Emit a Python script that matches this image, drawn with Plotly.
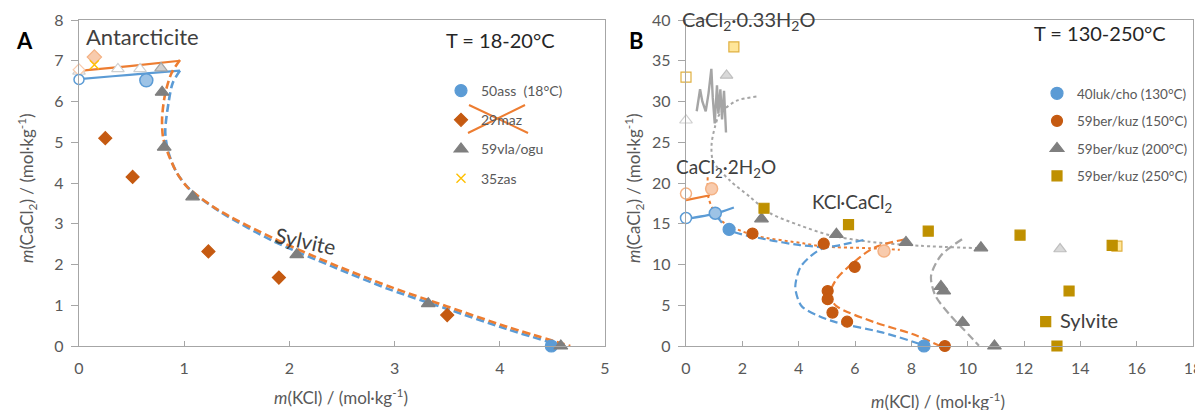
import plotly.graph_objects as go
from plotly.subplots import make_subplots

W, H = 1203, 410
PAGE_PAD = 8  # default body margin of the html page
FONT = "Lato"
TXT = "#595959"
DARK = "#404040"
DASH = "8px,4px"

BLUE, BLUE_LT = "#5B9BD5", "#9DC3E6"
ORANGE, ORANGE_DK, ORANGE_LT = "#ED7D31", "#C55A11", "#F8CBAD"
GREY_DK, GREY, GREY_LT = "#7F7F7F", "#A5A5A5", "#D0D0D0"
GOLD, YELLOW, YELLOW_LT = "#BF9000", "#FFC000", "#FFE699"

# ---------------- Panel A: 18-20 degC ----------------
a_ass_x, a_ass_y = [4.49], [0.0]
a_ass_open_x, a_ass_open_y = [0.0], [6.54]
a_ass_inv_x, a_ass_inv_y = [0.64], [6.52]

a_maz_x = [0.25, 0.51, 1.23, 1.90, 3.50]
a_maz_y = [5.10, 4.15, 2.32, 1.68, 0.76]
a_maz_inv_x, a_maz_inv_y = [0.146], [7.09]
a_maz_open_x, a_maz_open_y = [0.0], [6.78]

a_vla_x = [0.79, 0.81, 1.08, 2.07, 3.32, 4.58]
a_vla_y = [6.23, 4.88, 3.66, 2.24, 1.04, 0.0]
a_vla_open_x, a_vla_open_y = [0.0, 0.37, 0.58], [6.74, 6.80, 6.80]
a_vla_inv_x, a_vla_inv_y = [0.78], [6.82]

a_zas_x, a_zas_y = [0.146], [6.90]

# model curves (panel A)
a_blue_sol_x = [0.0, 0.32, 0.64, 0.96]
a_blue_sol_y = [6.55, 6.62, 6.69, 6.76]
a_orng_sol_x = [0.0, 0.48, 0.96]
a_orng_sol_y = [6.75, 6.87, 7.00]
a_orng_dash_x = [0.96, 0.88, 0.82, 0.79, 0.80, 0.85, 0.93, 1.03, 1.31, 1.85, 2.40, 2.95, 3.50, 4.06, 4.67]
a_orng_dash_y = [7.02, 6.70, 6.20, 5.60, 5.10, 4.70, 4.25, 3.90, 3.36, 2.64, 2.02, 1.46, 0.97, 0.48, 0.0]
a_blue_dash_x = [0.96, 0.89, 0.85, 0.82, 0.85, 0.93, 1.05, 1.35, 1.85, 2.40, 2.95, 3.50, 4.06, 4.60]
a_blue_dash_y = [6.76, 6.45, 5.95, 5.25, 4.75, 4.25, 3.85, 3.28, 2.57, 1.96, 1.39, 0.91, 0.42, 0.0]

# ---------------- Panel B: 130-250 degC ----------------
b_luk_x, b_luk_y = [1.53, 8.45], [14.3, 0.0]
b_luk_open_x, b_luk_open_y = [0.0], [15.7]
b_luk_inv_x, b_luk_inv_y = [1.04], [16.3]

b_b150_x = [2.36, 4.89, 5.99, 5.03, 5.03, 5.20, 5.72, 9.19]
b_b150_y = [13.8, 12.55, 9.7, 6.75, 5.75, 4.1, 2.98, 0.0]
b_b150_open_x, b_b150_open_y = [0.0], [18.7]
b_b150_inv_x, b_b150_inv_y = [0.91, 7.03], [19.3, 11.65]

b_b200_x = [2.68, 5.34, 7.81, 10.47, 9.05, 9.15, 9.82, 10.95]
b_b200_y = [15.6, 13.7, 12.7, 12.05, 7.3, 6.75, 2.9, 0.0]
b_b200_open_x, b_b200_open_y = [0.0], [27.7]
b_b200_inv_x, b_b200_inv_y = [13.28, 1.44], [11.9, 33.2]

b_b250_x = [2.77, 5.77, 8.60, 11.86, 15.13, 13.60, 12.77, 13.17]
b_b250_y = [16.9, 14.9, 14.1, 13.6, 12.35, 6.75, 3.0, 0.0]
b_b250_open_x, b_b250_open_y = [0.0], [33.0]
b_b250_inv_x, b_b250_inv_y = [15.30, 1.70], [12.25, 36.7]

# model curves (panel B)
b_blue_sol_x, b_blue_sol_y = [0.0, 1.04, 1.70], [15.6, 16.25, 17.0]
b_orng_sol_x, b_orng_sol_y = [0.0, 0.85], [17.9, 18.5]
b_blue_dash1_x = [1.10, 1.56, 2.98, 4.00, 4.90]
b_blue_dash1_y = [15.9, 14.2, 13.0, 12.4, 12.1]
b_blue_dash2_x = [6.30, 5.50, 4.80, 4.35, 4.05, 3.88, 4.10, 4.70, 5.34, 6.96, 8.30, 8.45]
b_blue_dash2_y = [13.0, 12.4, 11.9, 10.8, 9.6, 7.2, 4.9, 3.7, 2.9, 1.67, 0.24, 0.0]
b_orng_dot_x = [0.77, 0.79, 0.97, 1.32, 2.39, 4.16, 4.87, 6.52, 7.59]
b_orng_dot_y = [20.7, 18.3, 16.7, 15.2, 13.6, 12.6, 12.2, 12.0, 11.8]
b_orng_dash_x = [7.77, 6.70, 6.00, 5.34, 5.10, 5.34, 6.70, 8.04, 9.00]
b_orng_dash_y = [13.1, 12.1, 10.4, 8.2, 6.2, 4.9, 2.9, 1.47, 0.04]
b_grey_dash_x = [9.80, 9.05, 8.70, 8.85, 9.40, 10.07, 10.40]
b_grey_dash_y = [13.1, 11.1, 8.6, 6.2, 3.7, 1.27, 0.04]
b_grey_dot_x = [2.50, 1.80, 1.20, 1.03, 0.91, 0.96, 1.56, 2.27, 2.98, 4.04, 5.10, 6.50, 8.30, 10.40]
b_grey_dot_y = [30.6, 30.1, 28.5, 26.9, 24.8, 22.7, 20.3, 18.3, 16.3, 14.8, 13.6, 12.8, 12.3, 12.0]
b_grey_jag_x = [0.38, 0.50, 0.58, 0.70, 0.80, 0.90, 0.95, 1.02, 1.10, 1.15, 1.22, 1.28, 1.35, 1.42]
b_grey_jag_y = [28.8, 31.5, 30.0, 28.8, 31.0, 34.0, 30.5, 27.3, 32.0, 28.5, 31.5, 27.8, 31.3, 26.2]


def px(x):
    return (x - PAGE_PAD) / W


def py(y):
    return 1 - (y - PAGE_PAD) / H


fig = make_subplots(rows=1, cols=2)


def line(x, y, color, dash="solid", width=2.2, col=1, shape="spline"):
    fig.add_trace(go.Scatter(x=x, y=y, mode="lines", showlegend=False, hoverinfo="skip",
                             line=dict(color=color, dash=dash, width=width, shape=shape,
                                       smoothing=0.8)),
                  row=1, col=col)


def pts(x, y, symbol, size, fill, edge, col=1, name=None, legend="legend", ew=1.2):
    fig.add_trace(go.Scatter(x=x, y=y, mode="markers", cliponaxis=False,
                             name=name or "", showlegend=name is not None,
                             legend=legend, legendgroup=name or None,
                             marker=dict(symbol=symbol, size=size, color=fill,
                                         line=dict(color=edge, width=ew))),
                  row=1, col=col)


# Panel A curves
line(a_blue_sol_x, a_blue_sol_y, BLUE)
line(a_orng_sol_x, a_orng_sol_y, ORANGE)
line(a_blue_dash_x, a_blue_dash_y, BLUE, DASH, 2.6)
line(a_orng_dash_x, a_orng_dash_y, ORANGE, DASH, 2.6)

# Panel A points
pts(a_vla_open_x, a_vla_open_y, "triangle-up", 11, "white", GREY_LT)
pts(a_maz_open_x, a_maz_open_y, "diamond", 9, "white", ORANGE_LT)
pts(a_vla_inv_x, a_vla_inv_y, "triangle-up", 11, GREY_LT, GREY)
pts(a_ass_open_x, a_ass_open_y, "circle", 10, "white", BLUE, ew=1.5)
pts(a_ass_inv_x, a_ass_inv_y, "circle", 13, BLUE_LT, BLUE, ew=1.5)
pts(a_maz_inv_x, a_maz_inv_y, "diamond", 11, ORANGE_LT, "#F4B183")
pts(a_ass_x, a_ass_y, "circle", 12, BLUE, BLUE, name="50ass \u00a0(18°C)")
pts(a_maz_x, a_maz_y, "diamond", 10, ORANGE_DK, ORANGE_DK, name="29maz")
pts(a_vla_x, a_vla_y, "triangle-up", 12, GREY_DK, GREY_DK, name="59vla/ogu")
pts(a_zas_x, a_zas_y, "x-thin-open", 9, YELLOW, YELLOW, name="35zas", ew=1.4)

# Panel B curves
line(b_grey_jag_x, b_grey_jag_y, GREY, width=2.4, col=2, shape="linear")
line(b_grey_dot_x, b_grey_dot_y, GREY, "dot", 2, col=2)
line(b_orng_dot_x, b_orng_dot_y, ORANGE, "dot", 2, col=2)
line(b_blue_sol_x, b_blue_sol_y, BLUE, col=2)
line(b_orng_sol_x, b_orng_sol_y, ORANGE, col=2)
line(b_blue_dash1_x, b_blue_dash1_y, BLUE, DASH, 2.2, col=2)
line(b_blue_dash2_x, b_blue_dash2_y, BLUE, DASH, 2.2, col=2)
line(b_orng_dash_x, b_orng_dash_y, ORANGE, DASH, 2.2, col=2)
line(b_grey_dash_x, b_grey_dash_y, GREY, DASH, 2.2, col=2)

# Panel B points
pts(b_b250_open_x, b_b250_open_y, "square", 10, "white", "#E0B040", col=2)
pts(b_b200_open_x, b_b200_open_y, "triangle-up", 11, "white", GREY_LT, col=2)
pts(b_b200_inv_x, b_b200_inv_y, "triangle-up", 11, "#D9D9D9", "#BFBFBF", col=2)
pts(b_b250_inv_x, b_b250_inv_y, "square", 10, YELLOW_LT, "#E0B040", col=2)
pts(b_luk_open_x, b_luk_open_y, "circle", 11, "white", BLUE, col=2, ew=1.5)
pts(b_luk_inv_x, b_luk_inv_y, "circle", 12, BLUE_LT, BLUE, col=2, ew=1.5)
pts(b_b150_open_x, b_b150_open_y, "circle", 11, "white", "#F4B183", col=2, ew=1.5)
pts(b_b150_inv_x, b_b150_inv_y, "circle", 12, ORANGE_LT, "#F4B183", col=2, ew=1.5)
pts(b_luk_x, b_luk_y, "circle", 12, BLUE, BLUE, col=2, name="40luk/cho (130°C)", legend="legend2")
pts(b_b150_x, b_b150_y, "circle", 11, ORANGE_DK, ORANGE_DK, col=2, name="59ber/kuz (150°C)", legend="legend2")
pts(b_b200_x, b_b200_y, "triangle-up", 12, GREY_DK, GREY_DK, col=2, name="59ber/kuz (200°C)", legend="legend2")
pts(b_b250_x, b_b250_y, "square", 10, GOLD, GOLD, col=2, name="59ber/kuz (250°C)", legend="legend2")

axis_style = dict(showline=True, linecolor="#A6A6A6", linewidth=1.3, mirror=True,
                  showgrid=False, zeroline=False, tickcolor="#A6A6A6",
                  automargin=False,
                  tickfont=dict(family=FONT, size=16, color=TXT))
ydom = [py(346), py(20)]
fig.update_xaxes(**axis_style, ticks="inside", ticklen=5, ticklabelstandoff=8)
fig.update_yaxes(**axis_style, ticks="outside", ticklen=7, ticklabelstandoff=4, domain=ydom)
fig.update_xaxes(range=[0, 5], dtick=1, domain=[px(79), px(605)], row=1, col=1)
fig.update_yaxes(range=[0, 8], dtick=1, row=1, col=1)
fig.update_xaxes(range=[0, 18], dtick=2, domain=[px(686), px(1193)], row=1, col=2)
fig.update_yaxes(range=[0, 40], dtick=5, row=1, col=2)


def note(text, x, y, size=18, color=DARK, xanchor="center", angle=0, bold=False):
    fig.add_annotation(text=f"<b>{text}</b>" if bold else text, x=px(x), y=py(y),
                       xref="paper", yref="paper", showarrow=False, xanchor=xanchor,
                       yanchor="middle", textangle=angle,
                       font=dict(family=FONT, size=size, color=color))


ytitle = "<i>m</i>(CaCl<sub>2</sub>) / (mol·kg<sup>-1</sup>)"
xtitle = "<i>m</i>(KCl) / (mol·kg<sup>-1</sup>)"
note("A", 24, 41, 22, "black", bold=True)
note("B", 636, 41, 22, "black", bold=True)
note("Antarcticite", 84, 37, 22, xanchor="left")
note("T = 18-20°C", 500, 40, 20, "#262626")
note("Sylvite", 305, 241, 21, angle=12)
note(ytitle, 27, 188, 17, TXT, angle=-90)
note(xtitle, 341, 396, 17, TXT)
note("CaCl<sub>2</sub>·0.33H<sub>2</sub>O", 748, 20, 20)
note("CaCl<sub>2</sub>·2H<sub>2</sub>O", 726, 168, 19)
note("KCl·CaCl<sub>2</sub>", 852, 203, 19)
note("Sylvite", 1089, 320, 20)
note("T = 130-250°C", 1100, 33, 20, "#262626")
note(ytitle, 634, 188, 17, TXT, angle=-90)
note(xtitle, 938, 400, 17, TXT)

# strike-through of the 29maz legend entry
for x0, y0, x1, y1 in [(469, 105, 528, 133), (468, 133, 525, 105)]:
    fig.add_shape(type="line", xref="paper", yref="paper", x0=px(x0), y0=py(y0),
                  x1=px(x1), y1=py(y1), line=dict(color=ORANGE, width=2))

fig.update_layout(
    width=W, height=H, margin=dict(l=0, r=0, t=0, b=0),
    paper_bgcolor="white", plot_bgcolor="white",
    legend=dict(x=px(441), y=py(75), xanchor="left", yanchor="top",
                font=dict(family=FONT, size=14, color=TXT),
                tracegroupgap=8, bgcolor="rgba(0,0,0,0)"),
    legend2=dict(x=px(1037), y=py(78), xanchor="left", yanchor="top",
                 font=dict(family=FONT, size=13.5, color=TXT),
                 tracegroupgap=7, bgcolor="rgba(0,0,0,0)"),
)

fig.write_html("out.html")
